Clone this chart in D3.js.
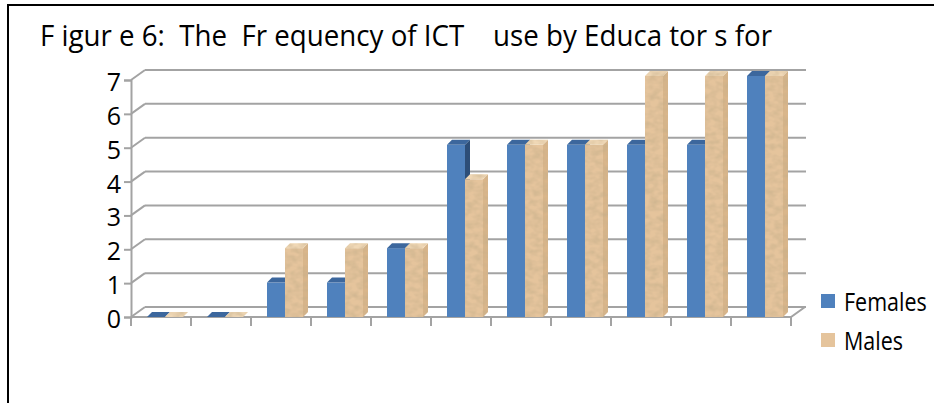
<!DOCTYPE html>
<html>
<head>
<meta charset="utf-8">
<script src="https://cdn.jsdelivr.net/npm/d3@7"></script>
<style>
	body { margin: 0; background: #fff; }
	svg { display: block; }
	text { font-family: "Open Sans", sans-serif; }
</style>
</head>
<body>
<div id="root"></div>
<script>

// chart values
const categories = ["1", "2", "3", "4", "5", "6", "7", "8", "9", "10", "11"];
const females = [0, 0, 1, 1, 2, 5, 5, 5, 5, 5, 7];
const males = [0, 0, 2, 2, 2, 4, 5, 5, 7, 7, 7];
const yTicks = [0, 1, 2, 3, 4, 5, 6, 7];
const seriesNames = ["Females", "Males"];
const titleText = "F igur e 6:  The  Fr equency of ICT    use by Educa tor s for";

function drawChart() {
	const width = 934;
	const height = 403;

	// floor front edge and depth of the 3D box
	const x0 = 131, x1 = 791;
	const yBase = 317, yTop = 80;
	const depthX = 14, depthY = -10;
	const barDepth = 5;

	const svg = d3.select("#root")
				.append("svg")
				.attr("width", width)
				.attr("height", height);

	const defs = svg.append("defs");

	// paper-ish texture for the Males bars
	const filt = defs.append("filter").attr("id", "paper")
		.attr("x", 0).attr("y", 0).attr("width", 1).attr("height", 1);
	filt.append("feTurbulence")
		.attr("type", "fractalNoise")
		.attr("baseFrequency", "0.12 0.18")
		.attr("numOctaves", 2)
		.attr("seed", 3)
		.attr("result", "noise");
	filt.append("feColorMatrix")
		.attr("in", "noise")
		.attr("type", "matrix")
		.attr("values", "0 0 0 0 0.55  0 0 0 0 0.42  0 0 0 0 0.25  0 0 0 -1.1 0.75")
		.attr("result", "tint");
	filt.append("feComposite")
		.attr("in", "tint").attr("in2", "SourceGraphic")
		.attr("operator", "in").attr("result", "spots");
	const merge = filt.append("feMerge");
	merge.append("feMergeNode").attr("in", "SourceGraphic");
	merge.append("feMergeNode").attr("in", "spots");

	// outer frame (only top and left visible in the picture)
	svg.append("rect")
		.attr("x", 8).attr("y", 5)
		.attr("width", 1000).attr("height", 500)
		.attr("fill", "none")
		.attr("stroke", "#000")
		.attr("stroke-width", 2);

	// title
	svg.append("text")
		.attr("x", 40)
		.attr("y", 46)
		.attr("font-size", 29)
		.attr("fill", "#000")
		.attr("textLength", 732)
		.attr("lengthAdjust", "spacingAndGlyphs")
		.style("white-space", "pre")
		.text(titleText);

	const x = d3.scaleBand().domain(categories).range([x0, x1]);
	const y = d3.scaleLinear().domain([0, 7]).range([yBase, yTop]);
	// bars sit a little deeper in the box, so they read slightly taller
	const yBar = d3.scaleLinear().domain([0, 7]).range([yBase, yBase - 241]);

	const grid = svg.append("g").attr("class", "grid")
		.attr("stroke", "#a3a3a3")
		.attr("stroke-width", 2)
		.attr("fill", "none");

	// back wall lines and the left side diagonals
	yTicks.forEach(v => {
		grid.append("line")
			.attr("x1", x0).attr("y1", y(v))
			.attr("x2", x0 + depthX).attr("y2", y(v) + depthY);
		grid.append("line")
			.attr("x1", x0 + depthX).attr("y1", y(v) + depthY)
			.attr("x2", x1 + depthX + 1).attr("y2", y(v) + depthY);
	});

	// floor
	grid.append("path")
		.attr("d", `M${x0},${yBase} L${x1},${yBase} L${x1 + depthX},${yBase + depthY}`);

	// value axis
	const yAxis = svg.append("g")
		.attr("transform", `translate(${x0},0)`)
		.call(d3.axisLeft(y).tickValues(yTicks).tickFormat(d3.format("d")).tickSize(7).tickPadding(3));
	yAxis.select(".domain").attr("stroke", "#a3a3a3").attr("stroke-width", 2);
	yAxis.selectAll(".tick line").attr("stroke", "#a3a3a3").attr("stroke-width", 2);
	yAxis.selectAll(".tick text")
		.attr("font-size", 25)
		.attr("fill", "#000")
		.attr("dy", "0.42em")
		.style("font-family", "'Open Sans', sans-serif");

	// category tick marks on the boundaries
	const bounds = categories.map(c => x(c)).concat([x1]);
	svg.append("g").selectAll("line")
		.data(bounds)
		.enter()
		.append("line")
		.attr("x1", d => d).attr("x2", d => d)
		.attr("y1", yBase).attr("y2", yBase + 9)
		.attr("stroke", "#a3a3a3")
		.attr("stroke-width", 2);

	const styles = [
		{front: "#4f81bd", top: "#3c679d", side: "#2d4e78", filter: null},
		{front: "#e5c49c", top: "#f0d8b6", side: "#d9b68b", filter: "url(#paper)"}
	];
	const barW = 18;
	const offsets = [16, 34];

	const bars = svg.append("g").attr("class", "bars");

	categories.forEach((c, i) => {
		[females[i], males[i]].forEach((v, s) => {
			const st = styles[s];
			const bx = x(c) + offsets[s];
			const top = yBar(v);
			const g = bars.append("g").attr("filter", st.filter);
			// side face
			g.append("path")
				.attr("d", `M${bx + barW},${top} L${bx + barW + barDepth},${top - barDepth} L${bx + barW + barDepth},${yBase - barDepth} L${bx + barW},${yBase} Z`)
				.attr("fill", st.side);
			// front face
			g.append("rect")
				.attr("x", bx).attr("y", top)
				.attr("width", barW).attr("height", yBase - top)
				.attr("fill", st.front);
			// top face
			g.append("path")
				.attr("d", `M${bx},${top} L${bx + barDepth},${top - barDepth} L${bx + barW + barDepth},${top - barDepth} L${bx + barW},${top} Z`)
				.attr("fill", st.top);
		});
	});

	// legend
	const legend = svg.append("g").attr("class", "legend");
	seriesNames.forEach((name, i) => {
		const ly = 294 + i * 39;
		legend.append("rect")
			.attr("x", 821).attr("y", ly)
			.attr("width", 14).attr("height", 14)
			.attr("fill", styles[i].front);
		legend.append("text")
			.attr("transform", `translate(844,${ly + 17}) scale(0.86,1)`)
			.attr("font-size", 25)
			.attr("fill", "#000")
			.style("font-family", "'Open Sans', sans-serif")
			.text(name);
	});
}

drawChart();
</script>
</body>
</html>
